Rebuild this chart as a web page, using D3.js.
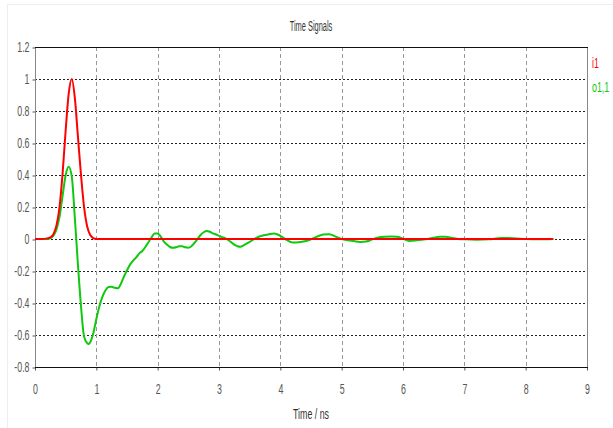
<!DOCTYPE html>
<html>
<head>
<meta charset="utf-8">
<script src="https://cdn.jsdelivr.net/npm/d3@7"></script>
<style>
    body { margin: 0; background: #fff; }
    svg { display: block; }
    text { font-family: "Liberation Sans", Arial, sans-serif; }
</style>
</head>
<body>
<svg id="svg" width="613" height="428"></svg>
<script>
// input signal i1 (red)
var timeI = [0, 0.1, 0.2, 0.25, 0.3, 0.35, 0.4, 0.45, 0.5, 0.55, 0.6, 0.65, 0.7, 0.75, 0.8, 0.85, 0.9, 0.95, 1.0, 1.1, 8.45];
var valuesI = [0, 0, 0.004, 0.01, 0.03, 0.085, 0.2, 0.41, 0.68, 0.91, 1.0, 0.88, 0.64, 0.4, 0.2, 0.08, 0.025, 0.006, 0, 0, 0];

// output signal o1,1 (green)
var timeO = [0, 0.2, 0.25, 0.3, 0.35, 0.4, 0.45, 0.5, 0.55, 0.6, 0.65, 0.7, 0.75, 0.8, 0.85, 0.875, 0.9, 0.95,
    1.0, 1.05, 1.1, 1.15, 1.2, 1.25, 1.3, 1.35, 1.4, 1.45, 1.5, 1.55, 1.6, 1.65, 1.7, 1.75, 1.8, 1.85, 1.9, 1.95,
    2.0, 2.05, 2.1, 2.15, 2.2, 2.25, 2.3, 2.35, 2.4, 2.45, 2.5, 2.55, 2.6, 2.65, 2.7, 2.75, 2.8, 2.85, 2.9, 2.95,
    3.0, 3.05, 3.1, 3.15, 3.2, 3.25, 3.3, 3.35, 3.4, 3.5, 3.6, 3.7, 3.8, 3.9, 4.0, 4.1, 4.2, 4.3, 4.4, 4.5,
    4.6, 4.7, 4.8, 4.9, 5.0, 5.1, 5.2, 5.3, 5.4, 5.5, 5.6, 5.7, 5.8, 5.9, 6.0, 6.1, 6.2, 6.3, 6.4, 6.5, 6.6,
    6.7, 6.8, 6.9, 7.0, 7.2, 7.4, 7.6, 7.8, 8.0, 8.2, 8.45];
var valuesO = [0, 0, 0.005, 0.02, 0.06, 0.14, 0.27, 0.4, 0.452, 0.39, 0.13, -0.16, -0.42, -0.61, -0.65, -0.656, -0.645, -0.59,
    -0.5, -0.42, -0.36, -0.32, -0.30, -0.298, -0.305, -0.308, -0.28, -0.235, -0.195, -0.16, -0.135, -0.115, -0.09, -0.075, -0.05, -0.02, 0.01, 0.035,
    0.035, 0.015, -0.015, -0.035, -0.05, -0.055, -0.052, -0.046, -0.045, -0.052, -0.054, -0.045, -0.025, 0, 0.025, 0.042, 0.05, 0.045, 0.035, 0.028,
    0.02, 0.012, 0.006, -0.006, -0.02, -0.035, -0.045, -0.048, -0.04, -0.018, 0.005, 0.02, 0.028, 0.035, 0.02, -0.005, -0.022, -0.02, -0.014, -0.002,
    0.015, 0.028, 0.03, 0.015, 0, -0.008, -0.013, -0.018, -0.016, -0.002, 0.01, 0.014, 0.015, 0.014, 0.002, -0.012, -0.01, -0.005, 0, 0.008, 0.014,
    0.014, 0.006, 0, -0.002, -0.004, -0.002, 0.006, 0.005, 0, -0.002, 0];

var xTicks = [0, 1, 2, 3, 4, 5, 6, 7, 8, 9];
var yTicks = [-0.8, -0.6, -0.4, -0.2, 0, 0.2, 0.4, 0.6, 0.8, 1, 1.2];
var seriesNames = ['i1', 'o1,1'];
var seriesColors = ['#ff0000', '#10c810'];

var svg = d3.select('#svg');
var plotL = 35, plotR = 587, plotT = 47, plotB = 367;
var squeeze = 'scale(0.63,1)';

var x = d3.scaleLinear().domain([0, 9]).range([plotL, plotR]);
var y = d3.scaleLinear().domain([-0.8, 1.2]).range([plotB, plotT]);

// faint frame round the whole picture
svg.append('rect')
    .attr('x', 7.5).attr('y', 4.5).attr('width', 640).attr('height', 460)
    .attr('fill', 'none').attr('stroke', '#eeeeee');

// grid
svg.append('g').selectAll('line')
    .data(yTicks)
    .enter().append('line')
    .attr('x1', plotL).attr('x2', plotR)
    .attr('y1', function(d) { return Math.round(y(d)) + 0.5; })
    .attr('y2', function(d) { return Math.round(y(d)) + 0.5; })
    .attr('stroke', '#222')
    .attr('stroke-dasharray', '2,2');

svg.append('g').selectAll('line')
    .data(xTicks.slice(1, -1))
    .enter().append('line')
    .attr('x1', function(d) { return Math.round(x(d)) + 0.5; })
    .attr('x2', function(d) { return Math.round(x(d)) + 0.5; })
    .attr('y1', plotT).attr('y2', plotB)
    .attr('stroke', '#999')
    .attr('stroke-dasharray', '4,3');

// axes
var yAxis = d3.axisLeft(y).tickValues(yTicks).tickSize(3).tickPadding(6.5)
    .tickFormat(function(d) { return String(+d.toFixed(1)); });
var xAxis = d3.axisBottom(x).tickValues(xTicks).tickSize(3).tickPadding(14)
    .tickFormat(d3.format('d'));

var gy = svg.append('g').attr('transform', 'translate(' + (plotL + 0.5) + ',0.5)').call(yAxis);
var gx = svg.append('g').attr('transform', 'translate(0,' + (plotB + 0.5) + ')').call(xAxis);

[gy, gx].forEach(function(g) {
    g.select('.domain').remove();
    g.selectAll('line').attr('stroke', '#555');
    g.selectAll('text')
        .attr('fill', '#555')
        .attr('transform', squeeze)
        .style('font-size', '14px');
});

// frame of the plot area
svg.append('line').attr('x1', plotL + 0.5).attr('x2', plotL + 0.5).attr('y1', plotT).attr('y2', plotB)
    .attr('stroke', '#888');
svg.append('line').attr('x1', plotR + 0.5).attr('x2', plotR + 0.5).attr('y1', plotT).attr('y2', plotB)
    .attr('stroke', '#888');
svg.append('line').attr('x1', plotL).attr('x2', plotR + 1).attr('y1', plotT + 0.5).attr('y2', plotT + 0.5)
    .attr('stroke', '#111');
svg.append('line').attr('x1', plotL).attr('x2', plotR + 1).attr('y1', plotB + 0.5).attr('y2', plotB + 0.5)
    .attr('stroke', '#111');

// curves
var line = d3.line()
    .x(function(d) { return x(d[0]); })
    .y(function(d) { return y(d[1]); })
    .curve(d3.curveMonotoneX);

svg.append('path')
    .datum(d3.zip(timeO, valuesO))
    .attr('d', line)
    .attr('fill', 'none')
    .attr('stroke', seriesColors[1])
    .attr('stroke-width', 2);

svg.append('path')
    .datum(d3.zip(timeI, valuesI))
    .attr('d', line)
    .attr('fill', 'none')
    .attr('stroke', seriesColors[0])
    .attr('stroke-width', 2);

// titles
svg.append('text')
    .attr('transform', 'translate(' + (plotL + plotR) / 2 + ',31) scale(0.53,1)')
    .attr('text-anchor', 'middle')
    .attr('fill', '#333')
    .style('font-size', '14px')
    .text('Time Signals');

svg.append('text')
    .attr('transform', 'translate(' + (plotL + plotR) / 2 + ',419) ' + squeeze)
    .attr('text-anchor', 'middle')
    .attr('fill', '#333')
    .style('font-size', '14px')
    .text('Time / ns');

// legend
svg.append('g').selectAll('text')
    .data(seriesNames)
    .enter().append('text')
    .attr('transform', function(d, i) { return 'translate(592,' + (68 + i * 24) + ') ' + squeeze; })
    .attr('fill', function(d, i) { return seriesColors[i]; })
    .style('font-size', '14px')
    .text(function(d) { return d; });
</script>
</body>
</html>
